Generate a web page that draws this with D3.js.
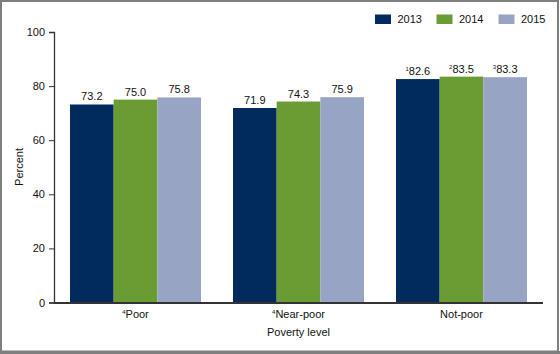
<!DOCTYPE html>
<html>
<head>
<meta charset="utf-8">
<script src="https://cdn.jsdelivr.net/npm/d3@7"></script>
<style>
  html, body { margin: 0; padding: 0; background: #fff; }
  svg { display: block; font-family: "Liberation Sans", Arial, sans-serif; }
</style>
</head>
<body>
<svg id="chart" width="560" height="354"></svg>
<script>
const categories = ["Poor", "Near-poor", "Not-poor"];
const categoryNotes = ["4", "4", ""];
const years = ["2013", "2014", "2015"];
const values2013 = [73.2, 71.9, 82.6];
const values2014 = [75.0, 74.3, 83.5];
const values2015 = [75.8, 75.9, 83.3];
const notes2013 = ["", "", "1"];
const notes2014 = ["", "", "2"];
const notes2015 = ["", "", "3"];
const yTicks = [0, 20, 40, 60, 80, 100];
const colors = ["#002b5c", "#6a9c33", "#97a4c3"];

const series = [values2013, values2014, values2015];
const notes = [notes2013, notes2014, notes2015];

const svg = d3.select("#chart");

// frame
svg.append("rect").attr("x", 1).attr("y", 1).attr("width", 557).attr("height", 350.5)
  .attr("fill", "none").attr("stroke", "#7f7f7f").attr("stroke-width", 2);
svg.append("line").attr("x1", 0).attr("x2", 560).attr("y1", 352.5).attr("y2", 352.5)
  .attr("stroke", "#7f7f7f").attr("stroke-width", 3);

const plotLeft = 54, plotRight = 543, plotTop = 32, plotBottom = 302.5;

const x0 = d3.scaleBand().domain(categories).range([plotLeft, plotRight]).padding(0);
const x1 = d3.scaleBand().domain(years).range([16, x0.bandwidth() - 16]).padding(0);
const y = d3.scaleLinear().domain([0, 100]).range([plotBottom, plotTop]);

// bars
categories.forEach((c, i) => {
  const g = svg.append("g").attr("transform", `translate(${x0(c)},0)`);
  years.forEach((yr, j) => {
    const v = series[j][i];
    g.append("rect")
      .attr("x", x1(yr))
      .attr("y", y(v))
      .attr("width", x1.bandwidth())
      .attr("height", y(0) - y(v))
      .attr("fill", colors[j]);
    const t = g.append("text")
      .attr("x", x1(yr) + x1.bandwidth() / 2)
      .attr("y", y(v) - 4)
      .attr("text-anchor", "middle")
      .attr("font-size", 11)
      .attr("fill", "#111");
    if (notes[j][i]) {
      t.append("tspan").attr("font-size", 6).attr("dy", -4).text(notes[j][i]);
      t.append("tspan").attr("dy", 4).text(v.toFixed(1));
    } else {
      t.text(v.toFixed(1));
    }
  });
});

// y axis
const yAxis = d3.axisLeft(y).tickValues(yTicks).tickSize(5).tickPadding(4);
const ya = svg.append("g").attr("transform", `translate(${plotLeft},0)`).call(yAxis);
ya.select(".domain").attr("stroke", "#333").attr("stroke-width", 1.3);
ya.selectAll(".tick line").attr("stroke", "#333");
ya.selectAll(".tick text").attr("font-size", 11).attr("fill", "#111")
  .attr("font-family", "Liberation Sans, Arial, sans-serif");

// x axis line
svg.append("line").attr("x1", plotLeft).attr("x2", plotRight)
  .attr("y1", plotBottom + 0.5).attr("y2", plotBottom + 0.5)
  .attr("stroke", "#333").attr("stroke-width", 2);

// category labels
categories.forEach((c, i) => {
  const t = svg.append("text")
    .attr("x", x0(c) + x0.bandwidth() / 2)
    .attr("y", 318)
    .attr("text-anchor", "middle")
    .attr("font-size", 11)
    .attr("fill", "#111");
  if (categoryNotes[i]) {
    t.append("tspan").attr("font-size", 6).attr("dy", -4).text(categoryNotes[i]);
    t.append("tspan").attr("dy", 4).text(c);
  } else {
    t.text(c);
  }
});

// axis titles
svg.append("text").attr("x", (plotLeft + plotRight) / 2).attr("y", 336)
  .attr("text-anchor", "middle").attr("font-size", 11).attr("fill", "#111")
  .text("Poverty level");
svg.append("text").attr("transform", "translate(23,167) rotate(-90)")
  .attr("text-anchor", "middle").attr("font-size", 11).attr("fill", "#111")
  .text("Percent");

// legend
const legendX = [375, 436.5, 498.5];
years.forEach((yr, j) => {
  svg.append("rect").attr("x", legendX[j]).attr("y", 14.5)
    .attr("width", 16).attr("height", 9.5).attr("fill", colors[j]);
  svg.append("text").attr("x", legendX[j] + 22.5).attr("y", 23)
    .attr("font-size", 11).attr("fill", "#111").text(yr);
});
</script>
</body>
</html>
